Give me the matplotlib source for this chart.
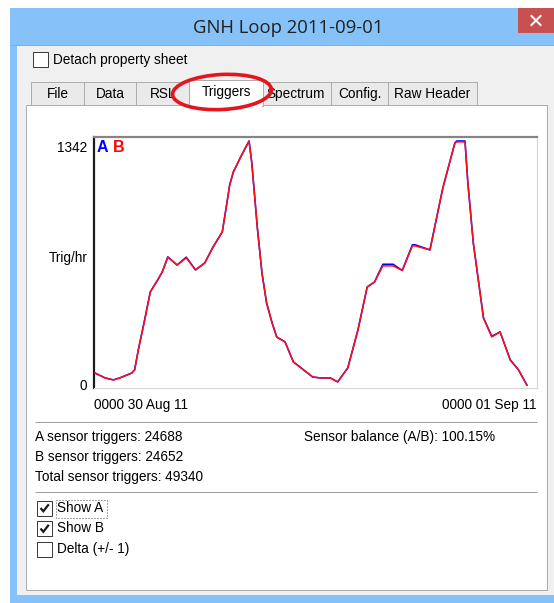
import matplotlib
matplotlib.use('Agg')
import matplotlib.pyplot as plt
from matplotlib.patches import Rectangle, Ellipse

# ---------------- data ----------------
title = 'GNH Loop 2011-09-01'
tabs = ['File', 'Data', 'RSL', 'Triggers', 'Spectrum', 'Config.', 'Raw Header']
selected_tab = 'Triggers'
hours = [0.1, 1.2, 2.1, 2.8, 4.1, 4.4, 4.8, 5.5, 6.1, 6.9, 7.4, 8.0, 9.0, 10.0,
         11.0, 12.0, 12.9, 13.9, 14.4, 14.7, 15.1, 16.0, 16.8, 17.1, 17.7, 18.2,
         18.7, 19.3, 19.8, 20.7, 21.6, 23.7, 24.5, 25.6, 26.4, 27.5, 28.6, 29.6,
         30.4, 31.3, 32.4, 33.4, 34.5, 34.8, 36.4, 37.8, 39.1, 39.3, 40.2, 40.5,
         41.1, 42.2, 43.1, 44.0, 45.1, 46.0, 46.9]
trig_b = [66, 39, 28, 39, 66, 83, 193, 358, 512, 578, 622, 704, 660, 699, 633,
          671, 759, 842, 1001, 1100, 1172, 1265, 1342, 1221, 864, 616, 451, 341,
          264, 237, 127, 44, 39, 39, 17, 94, 303, 539, 567, 655, 655, 630, 765,
          765, 743, 1084, 1331, 1337, 1337, 1117, 781, 369, 264, 292, 138, 83, 0]
trig_a = [66, 39, 28, 39, 66, 83, 193, 362, 512, 578, 622, 704, 660, 703, 633,
          671, 759, 842, 1001, 1100, 1172, 1265, 1342, 1221, 864, 616, 451, 341,
          264, 237, 127, 44, 39, 39, 17, 94, 303, 539, 567, 664, 664, 630, 771,
          771, 743, 1084, 1331, 1342, 1342, 1117, 781, 369, 268, 292, 138, 83, 0]
y_top = 1342
x_span = 48
x_labels = ['0000 30 Aug 11', '0000 01 Sep 11']
y_label = 'Trig/hr'
stats_left = ['A sensor triggers: 24688', 'B sensor triggers: 24652',
              'Total sensor triggers: 49340']
balance = 'Sensor balance (A/B): 100.15%'
checks = [('Show A', True), ('Show B', True), ('Delta (+/- 1)', False)]
detach = ('Detach property sheet', False)

# ---------------- figure ----------------
W, H = 554, 603
fig = plt.figure(figsize=(W / 100, H / 100), dpi=100)
fig.patch.set_facecolor('white')
bg = fig.add_axes([0, 0, 1, 1])
bg.set_xlim(0, W)
bg.set_ylim(H, 0)
bg.axis('off')
renderer = fig.canvas.get_renderer()
PX = 0.72  # points per pixel

UI = 'Liberation Sans'
TITLE_FONT = 'Open Sans'


def fitted_size(s, target, family, weight='normal'):
    t = bg.text(0, 0, s, fontsize=10, family=family, weight=weight)
    w = t.get_window_extent(renderer).width
    t.remove()
    return 10 * target / w


ui_size = fitted_size(stats_left[2], 168, UI)
title_size = fitted_size(title, 190, TITLE_FONT)


def rect(x0, y0, x1, y1, fc, ec='none', lw=0, z=1, **kw):
    bg.add_patch(Rectangle((x0, y0), x1 - x0, y1 - y0, facecolor=fc,
                           edgecolor=ec, linewidth=lw * PX, zorder=z, **kw))


def hline(x0, x1, y, c, lw=1, z=2):
    bg.plot([x0, x1], [y, y], color=c, lw=lw * PX, zorder=z,
            solid_capstyle='butt')


def label(x, y, s, ha='left', size=None, **kw):
    bg.text(x, y, s, ha=ha, va='center', family=UI,
            fontsize=size or ui_size, color='black', zorder=5, **kw)


def checkbox(x, y, checked):
    rect(x, y, x + 15, y + 15, 'white', ec='#3C3C3C', lw=1, z=4)
    if checked:
        bg.plot([x + 3.5, x + 6.3, x + 11.8], [y + 7.5, y + 10.8, y + 3.8],
                color='#1a1a1a', lw=2.2 * PX, zorder=5,
                solid_capstyle='butt', solid_joinstyle='miter')


# window frame + title bar
rect(10, 8, W, H, '#86C2F7')
hline(10, W, 44.5, '#78B2E6')
rect(518, 8, W, 33, '#C75050', z=2)
bg.plot([531.5, 540.5], [16, 25], color='white', lw=2 * PX, zorder=3)
bg.plot([531.5, 540.5], [25, 16], color='white', lw=2 * PX, zorder=3)
bg.text(288, 28, title, ha='center', va='center', family=TITLE_FONT,
        fontsize=title_size, color='#202020', zorder=3)

# content area
rect(17, 45, W, 595, '#F0F0F0', z=1)

checkbox(33, 52, detach[1])
label(53, 60, detach[0])

# tab panel
rect(26, 105, 547, 590, 'white', ec='#ADADAD', lw=1, z=2)

edges = [31, 84, 136, 191, 261, 331, 388, 477]
for i, name in enumerate(tabs):
    x0, x1 = edges[i], edges[i + 1]
    if name == selected_tab:
        continue
    rect(x0, 82, x1, 105, '#EAEAEA', ec='#ADADAD', lw=1, z=3)
    label((x0 + x1) / 2, 94, name, ha='center')
i = tabs.index(selected_tab)
x0, x1 = edges[i] - 2, edges[i + 1] + 2
rect(x0, 79.5, x1, 105.5, 'white', ec='#ADADAD', lw=1, z=4)
rect(x0 + 0.8, 104, x1 - 0.8, 107, 'white', z=4)
label((x0 + x1) / 2, 92, selected_tab, ha='center')

bg.add_patch(Ellipse((222, 92), 99, 35, angle=-3, fill=False,
                     edgecolor='#E3151D', linewidth=3.6 * PX, zorder=10))

# ---------------- chart ----------------
L, R, T, B = 94, 537, 137, 388
ax = fig.add_axes([L / W, 1 - B / H, (R - L) / W, (B - T) / H])
ax.set_facecolor('white')
ax.plot(hours, trig_a, color='#0000FF', lw=1.6 * PX, zorder=2)
ax.plot(hours, trig_b, color='#FF1010', lw=1.5 * PX, zorder=3)
ax.set_xlim(0, x_span)
ax.set_ylim(-16.5, 1364)
ax.spines['left'].set_color('#1a1a1a')
ax.spines['left'].set_linewidth(2.2 * PX)
ax.spines['top'].set_color('#858585')
ax.spines['top'].set_linewidth(2.2 * PX)
for s in ('right', 'bottom'):
    ax.spines[s].set_color('#D8D8D8')
    ax.spines[s].set_linewidth(1.2 * PX)

ax.set_yticks([0, y_top], labels=['0', str(y_top)])
ax.tick_params(axis='y', length=0, pad=5, labelsize=ui_size)
ylabs = ax.get_yticklabels()
ylabs[1].set_va('top')
for t in ylabs:
    t.set_family(UI)
ax.set_xticks([0, x_span], labels=x_labels)
ax.tick_params(axis='x', length=0, pad=7, labelsize=ui_size)
xl = ax.get_xticklabels()
xl[0].set_ha('left')
xl[1].set_ha('right')
for t in xl:
    t.set_family(UI)

ax.text((97 - L) / (R - L), (B - 148) / (B - T), 'A', color='#0000FF',
        fontweight='bold', fontsize=11.5, family=UI, va='center',
        transform=ax.transAxes)
ax.text((113 - L) / (R - L), (B - 148) / (B - T), 'B', color='#FF0000',
        fontweight='bold', fontsize=11.5, family=UI, va='center',
        transform=ax.transAxes)
label(88, 258, y_label, ha='right')

# ---------------- stats ----------------
hline(35, 537, 421.5, '#A0A0A0')
hline(35, 537, 422.5, 'white')
for k, s in enumerate(stats_left):
    label(35, 437 + 20 * k, s)
label(304, 437, balance)
hline(35, 537, 491.5, '#A0A0A0')
hline(35, 537, 492.5, 'white')

for k, (s, c) in enumerate(checks):
    yc = 508 + 20.5 * k
    checkbox(37, yc - 7.5, c)
    label(57, yc, s)
bg.add_patch(Rectangle((55.5, 499.5), 51, 18, fill=False, edgecolor='#555555',
                       linestyle=(0, (1, 2)), linewidth=1 * PX, zorder=5))

fig.savefig('out.png', dpi=100)
